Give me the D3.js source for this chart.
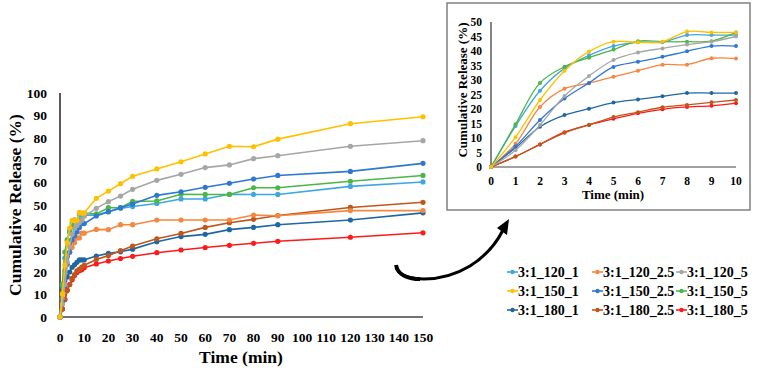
<!DOCTYPE html>
<html>
<head>
<meta charset="utf-8">
<script src="https://cdn.jsdelivr.net/npm/d3@7"></script>
<style>
  body { margin: 0; background: #fff; }
  text { font-family: "Liberation Serif", "Times New Roman", serif; font-weight: bold; fill: #000; }
</style>
</head>
<body>
<div id="chart"></div>
<script>
// Time points (min)
var times = [0, 1, 2, 3, 4, 5, 6, 7, 8, 9, 10, 15, 20, 25, 30, 40, 50, 60, 70, 80, 90, 120, 150];

// Cumulative release (%) per formulation
var r120_1   = [0, 14.1, 26.3, 34, 38.5, 41.7, 43, 43, 45.5, 45.5, 45.5, 45.5, 47, 48.5, 49.3, 50.7, 52.7, 52.7, 54.8, 54.7, 54.7, 58.3, 60.3];
var r120_2_5 = [0, 8, 20.7, 27, 28.9, 31.1, 33.2, 35.3, 35.3, 37.5, 37.4, 39.1, 39, 41.2, 41.2, 43.3, 43.3, 43.3, 43.3, 45.5, 45.2, 47.5, 47.5];
var r120_5   = [0, 5.8, 14.5, 24.5, 31.4, 36.9, 39.5, 40.9, 42.2, 43.2, 45, 48.5, 51.5, 54, 57, 61, 63.7, 66.7, 67.9, 70.7, 72, 76.2, 78.7];
var r150_1   = [0, 10.3, 23.1, 33.2, 39.8, 43.2, 43, 43.2, 46.7, 46.4, 46.4, 53, 56.2, 59.5, 62.8, 66.1, 69.3, 72.8, 76.2, 76, 79.4, 86.3, 89.4];
var r150_2_5 = [0, 7.1, 16.2, 23.6, 29, 34.5, 36.3, 38, 39.9, 41.7, 41.7, 45.1, 47, 48.8, 50.4, 54.3, 55.9, 57.9, 59.7, 61.6, 63.2, 65, 68.6];
var r150_5   = [0, 14.7, 29, 34.6, 37.7, 40.5, 43.4, 43.2, 43.2, 43.4, 46.4, 46, 48.8, 48.8, 51.6, 51.8, 54.8, 54.7, 54.7, 57.7, 57.7, 60.6, 63.2];
var r180_1   = [0, 6.6, 13.9, 17.9, 20.1, 22.2, 23.3, 24.4, 25.5, 25.5, 25.5, 27.2, 28.4, 29.1, 30.3, 33.6, 35.9, 36.9, 39, 40, 41.2, 43.3, 46.5];
var r180_2_5 = [0, 3.6, 7.8, 11.8, 14.5, 17.2, 18.9, 20.6, 21.4, 22.3, 23.1, 25.7, 27.4, 29.6, 31.7, 34.9, 37.3, 40, 42.1, 43.6, 45.3, 48.9, 51.2];
var r180_5   = [0, 3.6, 7.8, 12, 14.5, 16.6, 18.5, 19.9, 20.7, 21.1, 22, 23.7, 25, 26.1, 27.1, 28.7, 29.9, 31, 32, 32.9, 33.8, 35.6, 37.6];

var seriesNames = ["3:1_120_1", "3:1_120_2.5", "3:1_120_5",
                   "3:1_150_1", "3:1_150_2.5", "3:1_150_5",
                   "3:1_180_1", "3:1_180_2.5", "3:1_180_5"];
var seriesValues = [r120_1, r120_2_5, r120_5, r150_1, r150_2_5, r150_5, r180_1, r180_2_5, r180_5];
var colors = ["#3fa7e0", "#f5873e", "#a6a6a6", "#ffc000", "#2f78d2", "#4cb648", "#1f67a3", "#c0561a", "#ff1a1a"];

var mainYTicks = d3.range(0, 101, 10);
var mainXTicks = d3.range(0, 151, 10);
var insetYTicks = d3.range(0, 51, 5);
var insetXTicks = d3.range(0, 11, 1);

var series = seriesNames.map(function (name, i) {
  return {
    name: name,
    color: colors[i],
    points: times.map(function (t, j) { return { t: t, v: seriesValues[i][j] }; })
  };
});
// draw order: put yellow and gray on top like the original
var drawOrder = [8, 6, 7, 1, 0, 5, 4, 2, 3];

var svg = d3.select("#chart").append("svg")
  .attr("width", 758)
  .attr("height", 373);

// ---------- main chart ----------
var x = d3.scaleLinear().domain([0, 150]).range([60, 423]);
var y = d3.scaleLinear().domain([0, 100]).range([317, 93]);

var main = svg.append("g");

main.append("line")
  .attr("x1", x(0)).attr("x2", x(0))
  .attr("y1", y(0)).attr("y2", y(100))
  .attr("stroke", "#222").attr("stroke-width", 1.5);
main.append("line")
  .attr("x1", x(0)).attr("x2", x(150))
  .attr("y1", y(0)).attr("y2", y(0))
  .attr("stroke", "#444").attr("stroke-width", 1.3);

main.selectAll(".ytick").data(mainYTicks).enter().append("text")
  .attr("x", 47).attr("y", function (d) { return y(d); })
  .attr("dy", "0.35em").attr("text-anchor", "end")
  .style("font-size", "13.5px")
  .text(function (d) { return d; });

main.selectAll(".xtick").data(mainXTicks).enter().append("text")
  .attr("x", function (d) { return x(d); }).attr("y", 337)
  .attr("dy", "0.35em").attr("text-anchor", "middle")
  .style("font-size", "13.5px")
  .text(function (d) { return d; });

main.append("text")
  .attr("x", 241).attr("y", 363)
  .attr("text-anchor", "middle")
  .style("font-size", "17.5px")
  .text("Time (min)");

main.append("text")
  .attr("transform", "translate(21,205) rotate(-90)")
  .attr("text-anchor", "middle")
  .style("font-size", "17.5px")
  .text("Cumulative Release (%)");

var mainLine = d3.line()
  .x(function (d) { return x(d.t); })
  .y(function (d) { return y(d.v); });

drawOrder.forEach(function (i) {
  var s = series[i];
  main.append("path")
    .datum(s.points)
    .attr("fill", "none")
    .attr("stroke", s.color)
    .attr("stroke-width", 1.6)
    .attr("d", mainLine);
  main.selectAll(null).data(s.points).enter().append("circle")
    .attr("cx", function (d) { return x(d.t); })
    .attr("cy", function (d) { return y(d.v); })
    .attr("r", 2.6)
    .attr("fill", s.color);
});

// ---------- inset ----------
var xi = d3.scaleLinear().domain([0, 10]).range([491, 736]);
var yi = d3.scaleLinear().domain([0, 50]).range([167, 22]);

var inset = svg.append("g");

inset.append("rect")
  .attr("x", 447).attr("y", 3)
  .attr("width", 303).attr("height", 207)
  .attr("fill", "#fff")
  .attr("stroke", "#808080").attr("stroke-width", 1.5);

inset.append("line")
  .attr("x1", xi(0)).attr("x2", xi(0))
  .attr("y1", yi(0)).attr("y2", yi(50))
  .attr("stroke", "#333").attr("stroke-width", 1.2);
inset.append("line")
  .attr("x1", xi(0)).attr("x2", xi(10))
  .attr("y1", yi(0)).attr("y2", yi(0))
  .attr("stroke", "#444").attr("stroke-width", 1.2);

inset.selectAll(".ytick").data(insetYTicks).enter().append("text")
  .attr("x", 482).attr("y", function (d) { return yi(d); })
  .attr("dy", "0.35em").attr("text-anchor", "end")
  .style("font-size", "11.5px")
  .text(function (d) { return d; });

inset.selectAll(".xtick").data(insetXTicks).enter().append("text")
  .attr("x", function (d) { return xi(d); }).attr("y", 181)
  .attr("dy", "0.35em").attr("text-anchor", "middle")
  .style("font-size", "11.5px")
  .text(function (d) { return d; });

inset.append("text")
  .attr("x", 613).attr("y", 199)
  .attr("text-anchor", "middle")
  .style("font-size", "13px")
  .text("Time (min)");

inset.append("text")
  .attr("transform", "translate(467,90) rotate(-90)")
  .attr("text-anchor", "middle")
  .style("font-size", "13px")
  .text("Cumulative Release (%)");

var insetLine = d3.line()
  .curve(d3.curveCatmullRom.alpha(0.5))
  .x(function (d) { return xi(d.t); })
  .y(function (d) { return yi(d.v); });

drawOrder.forEach(function (i) {
  var s = series[i];
  var pts = s.points.filter(function (d) { return d.t <= 10; });
  inset.append("path")
    .datum(pts)
    .attr("fill", "none")
    .attr("stroke", s.color)
    .attr("stroke-width", 1.3)
    .attr("d", insetLine);
  inset.selectAll(null).data(pts).enter().append("circle")
    .attr("cx", function (d) { return xi(d.t); })
    .attr("cy", function (d) { return yi(d.v); })
    .attr("r", 2)
    .attr("fill", s.color);
});

// ---------- curved arrow ----------
svg.append("path")
  .attr("d", "M396,268 C402,282 440,284 470,266 C486,256 496,244 503,230")
  .attr("fill", "none")
  .attr("stroke", "#000")
  .attr("stroke-width", 3);
svg.append("path")
  .attr("d", "M396,265 C398,276 410,279 420,279")
  .attr("fill", "none")
  .attr("stroke", "#000")
  .attr("stroke-width", 4);
svg.append("path")
  .attr("d", "M509,219 L507,235 L497,228 Z")
  .attr("fill", "#000");

// ---------- legend ----------
var legendX = [507, 592, 676];
var legendY = [272, 291, 310];
var legend = svg.append("g");
series.forEach(function (s, i) {
  var lx = legendX[i % 3], ly = legendY[Math.floor(i / 3)];
  legend.append("line")
    .attr("x1", lx).attr("x2", lx + 11)
    .attr("y1", ly).attr("y2", ly)
    .attr("stroke", s.color).attr("stroke-width", 1.6);
  legend.append("circle")
    .attr("cx", lx + 5.5).attr("cy", ly).attr("r", 2.2)
    .attr("fill", s.color);
  legend.append("text")
    .attr("x", lx + 11).attr("y", ly)
    .attr("dy", "0.35em")
    .style("font-size", "14px")
    .text(s.name);
});
</script>
</body>
</html>
